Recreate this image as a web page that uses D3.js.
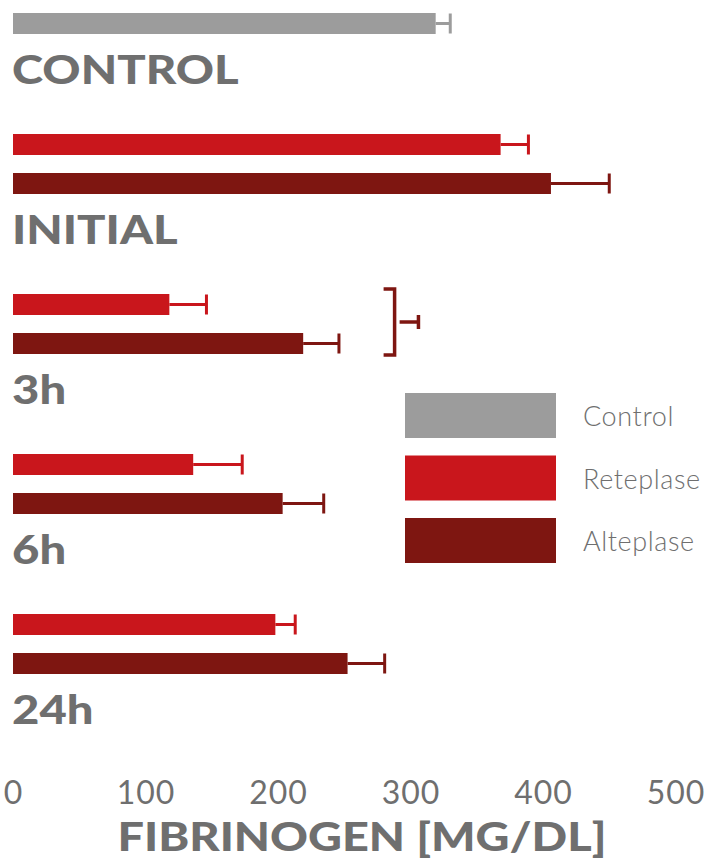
<!DOCTYPE html>
<html>
<head>
<meta charset="utf-8">
<script src="https://cdn.jsdelivr.net/npm/d3@7/dist/d3.min.js"></script>
<style>
  html, body { margin: 0; padding: 0; background: #ffffff; }
  svg { display: block; }
</style>
</head>
<body>
<svg id="chart" width="721" height="859"></svg>
<script>
// Fibrinogen levels (mg/dL), mean and error, per sampling time
const categories = ["CONTROL", "INITIAL", "3h", "6h", "24h"];
const seriesNames = ["Control", "Reteplase", "Alteplase"];
const controlMean = [319, null, null, null, null];
const controlErr = [11, null, null, null, null];
const reteplaseMean = [null, 368, 118, 136, 198];
const reteplaseErr = [null, 21, 28, 37, 15];
const alteplaseMean = [null, 406, 219, 203.5, 252.5];
const alteplaseErr = [null, 44, 27, 31, 28];
const xTicks = [0, 100, 200, 300, 400, 500];
const axisTitle = "FIBRINOGEN [MG/DL]";

const colors = { Control: "#9c9c9c", Reteplase: "#c9161c", Alteplase: "#7e1611" };
const textGray = "#6f6f6f";
const baseFont = "Lato, 'Open Sans', sans-serif";

const svg = d3.select("#chart");

const x = d3.scaleLinear().domain([0, 500]).range([13, 675.5]);

// Flatten into bar rows; each row is one bar, groups are separated by a label gap
const rowStep = 39, groupGap = 82, barH = 21, top0 = 13;
const rows = [];
let rowIndex = 0;
categories.forEach((cat, gi) => {
  [[controlMean, controlErr, "Control"], [reteplaseMean, reteplaseErr, "Reteplase"], [alteplaseMean, alteplaseErr, "Alteplase"]]
    .forEach(([m, e, name]) => {
      if (m[gi] != null) {
        rows.push({ cat, gi, name, mean: m[gi], err: e[gi], row: rowIndex });
        rowIndex++;
      }
    });
});
const yRow = r => top0 + r.row * rowStep + r.gi * groupGap;

// Bars
svg.append("g").selectAll("rect").data(rows).join("rect")
  .attr("x", x(0))
  .attr("y", d => yRow(d))
  .attr("width", d => x(d.mean) - x(0))
  .attr("height", barH)
  .attr("fill", d => colors[d.name]);

// Error bars: whisker from bar end plus a cap
const eb = svg.append("g").selectAll("g").data(rows).join("g")
  .attr("stroke", d => colors[d.name])
  .attr("stroke-width", 3);
eb.append("line")
  .attr("x1", d => x(d.mean)).attr("x2", d => x(d.mean + d.err))
  .attr("y1", d => yRow(d) + barH / 2).attr("y2", d => yRow(d) + barH / 2);
eb.append("line")
  .attr("x1", d => x(d.mean + d.err)).attr("x2", d => x(d.mean + d.err))
  .attr("y1", d => yRow(d) + 0.5).attr("y2", d => yRow(d) + barH - 0.5);

// Group labels below each group's last bar (wide heavy lettering)
const lastRows = categories.map((c, gi) => rows.filter(r => r.gi === gi).slice(-1)[0]);
const labels = svg.append("g").selectAll("text").data(lastRows).join("text")
  .attr("x", 12)
  .attr("y", d => yRow(d) + barH + 50)
  .attr("fill", textGray)
  .attr("font-family", baseFont)
  .attr("font-weight", 900)
  .attr("font-size", 40)
  .text(d => d.cat);
labels.each(function () {
  const w = this.getComputedTextLength();
  d3.select(this).attr("textLength", w * 1.18).attr("lengthAdjust", "spacingAndGlyphs");
});

// Significance bracket between the 3h bars
const sigRows = rows.filter(r => r.gi === 2);
const yA = yRow(sigRows[0]) - 5, yB = yRow(sigRows[1]) + barH + 1;
const bx = x(288);
const sig = svg.append("g").attr("stroke", colors.Alteplase).attr("stroke-width", 3.5).attr("fill", "none");
sig.append("path").attr("d", `M${bx - 11},${yA} H${bx} V${yB} H${bx - 11}`);
const ym = (yA + yB) / 2;
sig.append("line").attr("x1", bx + 5).attr("x2", x(306)).attr("y1", ym).attr("y2", ym);
sig.append("line").attr("x1", x(306)).attr("x2", x(306)).attr("y1", ym - 7).attr("y2", ym + 7);

// Legend
const legend = svg.append("g").attr("transform", "translate(405,393)");
const li = legend.selectAll("g").data(seriesNames).join("g")
  .attr("transform", (d, i) => `translate(0,${i * 62.5})`);
li.append("rect").attr("width", 151).attr("height", 45).attr("fill", d => colors[d]);
li.append("text")
  .attr("x", 178).attr("y", 33)
  .attr("fill", textGray)
  .attr("font-family", baseFont)
  .attr("font-weight", 300)
  .attr("font-size", 27)
  .attr("letter-spacing", 0.6)
  .text(d => d);

// X axis (labels only)
const axis = svg.append("g")
  .attr("transform", "translate(0,775)")
  .call(d3.axisBottom(x).tickValues(xTicks).tickSize(0).tickPadding(0));
axis.select(".domain").remove();
axis.selectAll("text")
  .attr("fill", textGray)
  .attr("font-family", baseFont)
  .attr("font-weight", 400)
  .attr("font-size", 32)
  .attr("letter-spacing", 1)
  .attr("dy", "0.92em");

svg.append("text")
  .attr("x", 362).attr("y", 851)
  .attr("text-anchor", "middle")
  .attr("fill", textGray)
  .attr("font-family", baseFont)
  .attr("font-weight", 900)
  .attr("font-size", 40)
  .attr("textLength", 489)
  .attr("lengthAdjust", "spacingAndGlyphs")
  .text(axisTitle);
</script>
</body>
</html>
